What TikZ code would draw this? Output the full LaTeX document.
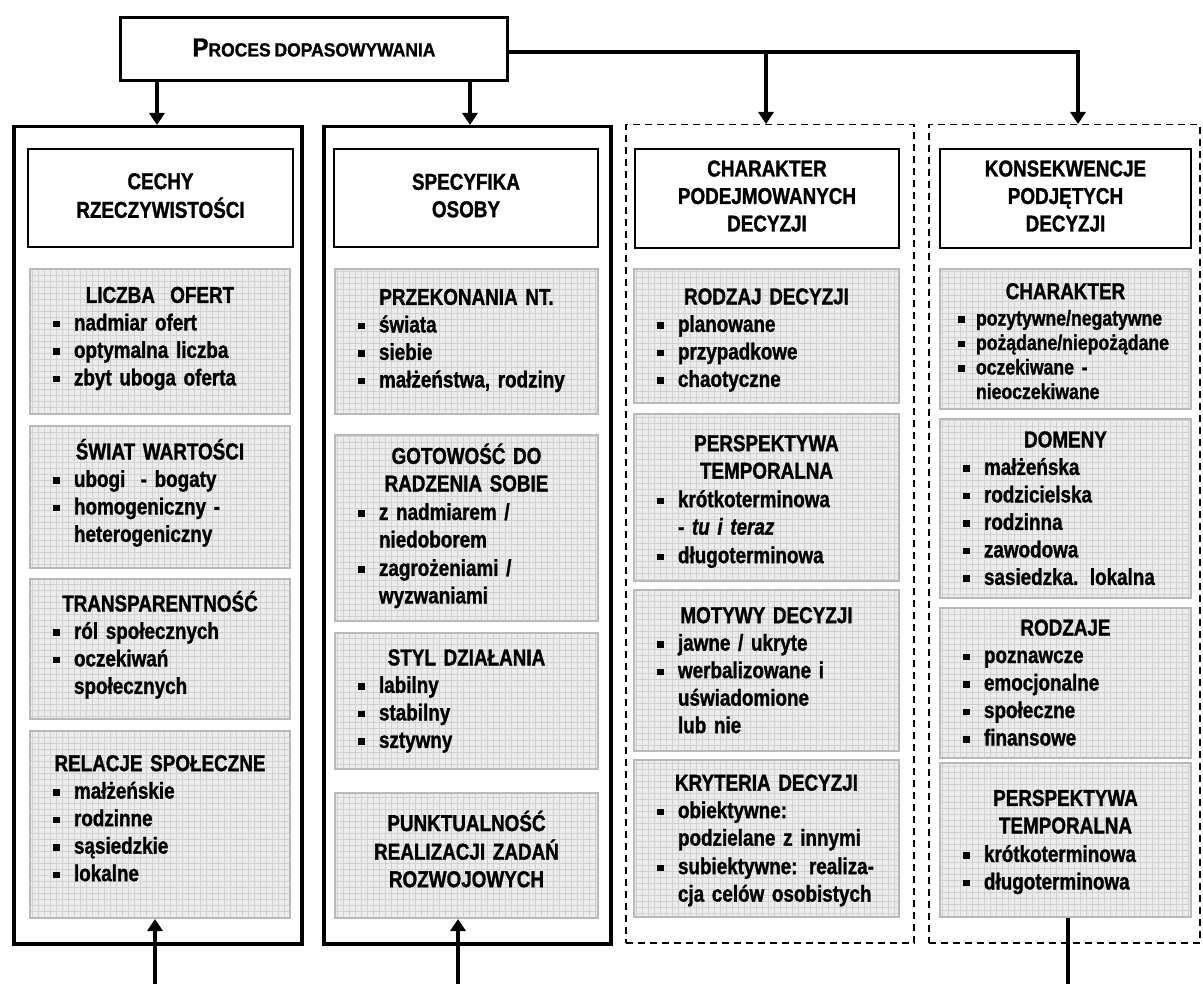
\documentclass[tikz,border=0pt]{standalone}
\usepackage{fontspec}
\setmainfont{Liberation Sans Bold}[FakeStretch=0.82, WordSpace=0.7, FakeBold=1.2, ItalicFont={Liberation Sans Bold Italic}]
\newfontfamily\widefont{Liberation Sans Bold}[FakeStretch=0.92, WordSpace=0.8, FakeBold=1.2]
\usetikzlibrary{arrows.meta}
\AtBeginDocument{\lineskip=0pt\relax}

\newcommand{\bsq}{\raisebox{3pt}{\rule{6.5pt}{6.5pt}}}
\newcommand{\blt}[1]{\par\noindent\hspace*{9pt}\makebox[21pt][l]{\bsq}\begin{tabular}[t]{@{}l@{}}#1\end{tabular}\par}
\newcommand{\bltb}[1]{\par\noindent\hspace*{4pt}\makebox[18pt][l]{\bsq}\begin{tabular}[t]{@{}l@{}}#1\end{tabular}\par}
\newcommand{\ttl}[1]{\par\noindent\makebox[\linewidth][c]{\begin{tabular}[t]{@{}c@{}}#1\end{tabular}}\par}

\tikzset{
  colsolid/.style={draw, line width=3.5pt, inner sep=0pt},
  coldash/.style={draw, line width=1.5pt, dash pattern=on 7pt off 5pt, inner sep=0pt},
  headbox/.style={draw, line width=2pt, fill=white, inner sep=0pt,
    font=\fontsize{23}{27.5}\selectfont},
  greybox/.style={draw=gray!55, line width=2pt, fill=gray!15, inner sep=0pt,
    path picture={\draw[gray!36, line width=0.4pt, step=6pt]
      (path picture bounding box.south west) grid (path picture bounding box.north east);},
    font=\fontsize{23}{27.5}\selectfont},
  procbox/.style={draw, line width=3pt, fill=white, inner sep=0pt},
  arr/.style={line width=3.5pt, -{Triangle[width=15pt,length=12pt]}},
  conn/.style={line width=3.5pt}
}

% \greybx[shift up]{name}{x1}{y1}{x2}{y2}{content}
\newcommand{\greybx}[7][0]{%
  \pgfmathsetmacro{\gw}{#5-#3}\pgfmathsetmacro{\gh}{#6-#4}\pgfmathsetmacro{\gtw}{#5-#3-28}\pgfmathsetmacro{\gsh}{2*#1}%
  \node[greybox, anchor=north west, minimum width=\gw pt, minimum height=\gh pt, text width=\gtw pt] (#2) at (#3,#4) {#7\par\vspace*{\gsh pt}\hrule height 0pt width 0pt\relax};}
\newcommand{\headbx}[6]{%
  \pgfmathsetmacro{\gw}{#4-#2}\pgfmathsetmacro{\gh}{#5-#3}%
  \node[headbox, anchor=north west, minimum width=\gw pt, minimum height=\gh pt] (#1) at (#2,#3) {\begin{tabular}{@{}c@{}}#6\end{tabular}};}
\newcommand{\colbx}[6]{%
  \pgfmathsetmacro{\gw}{#5-#3}\pgfmathsetmacro{\gh}{#6-#4}%
  \node[#2, anchor=north west, minimum width=\gw pt, minimum height=\gh pt] (#1) at (#3,#4) {};}

\begin{document}
\begin{tikzpicture}[x=1pt,y=-1pt]
\useasboundingbox (0,0) rectangle (1203,984);
\clip (0,0) rectangle (1203,984);

% column frames
\colbx{col1}{colsolid}{12}{125}{300}{942}
\colbx{col2}{colsolid}{322}{125}{609}{942}
\colbx{col3}{coldash}{625}{124}{913}{942}
\colbx{col4}{coldash}{928}{124}{1199}{942}

% top box
\node[procbox, anchor=north west, minimum width=387pt, minimum height=63pt] (proc) at (119,16)
  {\raisebox{3pt}{\widefont\fontsize{26}{28}\selectfont P\fontsize{19}{20}\selectfont ROCES DOPASOWYWANIA}};

% headers
\headbx{h1}{27}{148}{292}{246}{CECHY\\RZECZYWISTOŚCI}
\headbx{h2}{333}{148}{597}{246}{SPECYFIKA\\OSOBY}
\headbx{h3}{634}{148}{898}{247}{CHARAKTER\\PODEJMOWANYCH\\DECYZJI}
\headbx{h4}{939}{148}{1190}{247}{KONSEKWENCJE\\PODJĘTYCH\\DECYZJI}

% column 1
\greybx[7]{g11}{29}{268}{289}{413}{\ttl{LICZBA\ \ OFERT}\blt{nadmiar ofert}\blt{optymalna liczba}\blt{zbyt uboga oferta}}
\greybx[6]{g12}{29}{425}{289}{567}{\ttl{ŚWIAT WARTOŚCI}\blt{ubogi\ \ - bogaty}\blt{homogeniczny -\\heterogeniczny}}
\greybx[6]{g13}{29}{578}{289}{718}{\ttl{TRANSPARENTNOŚĆ}\blt{ról społecznych}\blt{oczekiwań\\społecznych}}
\greybx[8]{g14}{29}{730}{289}{917}{\ttl{RELACJE SPOŁECZNE}\blt{małżeńskie}\blt{rodzinne}\blt{sąsiedzkie}\blt{lokalne}}

% column 2
\greybx[5]{g21}{334}{268}{597}{413}{\ttl{PRZEKONANIA NT.}\blt{świata}\blt{siebie}\blt{małżeństwa, rodziny}}
\greybx[4]{g22}{334}{434}{597}{620}{\ttl{GOTOWOŚĆ DO\\RADZENIA SOBIE}\blt{z nadmiarem /\\niedoborem}\blt{zagrożeniami /\\wyzwaniami}}
\greybx[4]{g23}{334}{632}{597}{768}{\ttl{STYL DZIAŁANIA}\blt{labilny}\blt{stabilny}\blt{sztywny}}
\greybx[6]{g24}{334}{792}{597}{917}{\ttl{PUNKTUALNOŚĆ\\REALIZACJI ZADAŃ\\ROZWOJOWYCH}}

% column 3
\greybx{g31}{633}{268}{898}{402}{\ttl{RODZAJ DECYZJI}\blt{planowane}\blt{przypadkowe}\blt{chaotyczne}}
\greybx{g32}{633}{413}{898}{580}{\ttl{PERSPEKTYWA\\TEMPORALNA}\blt{krótkoterminowa\\- \textit{tu i teraz}}\blt{długoterminowa}}
\greybx[2]{g33}{633}{589}{898}{750}{\ttl{MOTYWY DECYZJI}\blt{jawne / ukryte}\blt{werbalizowane i\\uświadomione\\lub nie}}
\greybx[2]{g34}{633}{759}{898}{916}{\ttl{KRYTERIA DECYZJI}\blt{obiektywne:\\podzielane z innymi}\blt{subiektywne: realiza-\\cja celów osobistych}}

% column 4
\greybx{g41}{939}{268}{1190}{408}{\ttl{CHARAKTER}\fontsize{21.5}{24.5}\selectfont\bltb{pozytywne/negatywne}\bltb{pożądane/niepożądane}\bltb{oczekiwane -\\nieoczekiwane}}
\greybx[2]{g42}{939}{418}{1190}{597}{\ttl{DOMENY}\blt{małżeńska}\blt{rodzicielska}\blt{rodzinna}\blt{zawodowa}\blt{sasiedzka. lokalna}}
\greybx[2]{g43}{939}{607}{1190}{752}{\ttl{RODZAJE}\blt{poznawcze}\blt{emocjonalne}\blt{społeczne}\blt{finansowe}}
\greybx[2]{g44}{939}{762}{1190}{916}{\ttl{PERSPEKTYWA\\TEMPORALNA}\blt{krótkoterminowa}\blt{długoterminowa}}

% top connectors
\coordinate (t1) at (157,0);
\coordinate (t2) at (470,0);
\coordinate (t3) at (766,52);
\coordinate (t4) at (1078,52);
\draw[arr] (t1 |- proc.south) -- (t1 |- col1.north);
\draw[arr] (t2 |- proc.south) -- (t2 |- col2.north);
\draw[arr] (proc.east |- t4) -- (t4) -- (t4 |- col4.north);
\draw[arr] (t3) -- (t3 |- col3.north);

% bottom connectors
\coordinate (b1) at (155,985.5);
\coordinate (b2) at (458,985.5);
\coordinate (b4) at (1068,985.5);
\draw[arr] (b1) -- (b1 |- g14.south);
\draw[arr] (b2) -- (b2 |- g24.south);
\draw[conn] (b4 |- g44.south) -- (b4) -- (b1);
\end{tikzpicture}
\end{document}
